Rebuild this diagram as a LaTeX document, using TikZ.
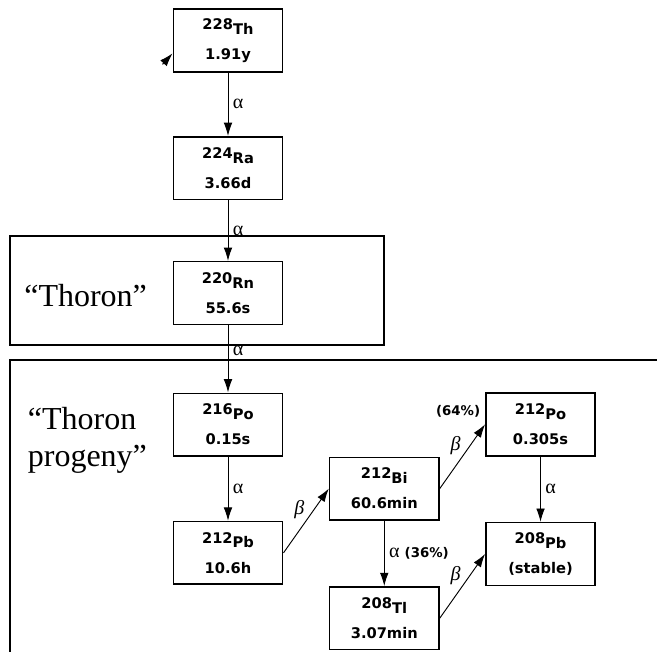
\documentclass[tikz,border=0pt]{standalone}
\usepackage{fontspec}
\setmainfont{Liberation Serif}
\newfontfamily\boxfont{DejaVu Sans}
\usetikzlibrary{arrows.meta, positioning, calc}

\newcommand{\nuc}[2]{\raisebox{3.5pt}{#1}#2}
\newcommand{\pctfont}{\boxfont\bfseries\fontsize{10}{12}\selectfont}

\begin{document}
\begin{tikzpicture}[
    x=0.75pt, y=-0.75pt,
    nuclide/.style={rectangle, draw, line width=1.2pt, minimum width=82pt, minimum height=47pt, inner sep=2pt, align=center, font=\boxfont\bfseries\fontsize{11}{19}\selectfont},
    decay/.style={draw, -{Latex[length=10pt, width=6.5pt]}, line width=0.7pt},
    frame/.style={draw, line width=0.9pt},
    tag/.style={font=\fontsize{24}{28}\selectfont, align=left, inner sep=0pt},
    lbl/.style={font=\fontsize{15}{15}\selectfont},
    pct/.style={font=\pctfont}
]
\useasboundingbox (0,0) rectangle (657,652);

% Main chain
\node[nuclide] (th228) at (228,40.5) {\nuc{228}{Th}\\1.91y};
\node[nuclide, below=47.5pt of th228] (ra224) {\nuc{224}{Ra}\\3.66d};
\node[nuclide, below=45.5pt of ra224] (rn220) {\nuc{220}{Rn}\\55.6s};
\node[nuclide, below=50.5pt of rn220] (po216) {\nuc{216}{Po}\\0.15s};
\node[nuclide, below=48pt of po216] (pb212) {\nuc{212}{Pb}\\10.6h};

% Branches
\node[nuclide, above right=0pt and 34pt of pb212] (bi212) {\nuc{212}{Bi}\\60.6min};
\node[nuclide, above right=0pt and 34pt of bi212] (po212) {\nuc{212}{Po}\\0.305s};
\node[nuclide, below=49pt of bi212] (tl208) {\nuc{208}{Tl}\\3.07min};
\node[nuclide, below=49pt of po212] (pb208) {\nuc{208}{Pb}\\(stable)};

% Labels
\node[tag, left=19pt of rn220, yshift=-2pt] (thoronlbl) {“Thoron”};
\node[tag, left=19pt of po216, yshift=-12pt] (progenylbl) {“Thoron\\progeny”};

% Frames
\draw[frame] (10,236) rectangle (384,345);
\draw[frame] (657,360) -- (10,360) -- (10,652);

% Decays
\coordinate (thin) at ($(th228.south west)!0.3!(th228.north west)$);
\coordinate (feed) at ($(thin)+(-10,11)$);
\draw[decay] (feed) -- (thin);
\draw[decay] (th228) -- node[right, lbl] {α} (ra224);
\draw[decay] (ra224) -- node[right, lbl] {α} (rn220);
\draw[decay] (rn220) -- node[right, lbl, pos=0.38] {α} (po216);
\draw[decay] (po216) -- node[right, lbl] {α} (pb212);
\draw[decay] (pb212.east) -- node[above left, lbl, inner sep=1pt] {\itshape β} (bi212.west);
\draw[decay] (bi212.east) -- node[above left, lbl, inner sep=1pt] {\itshape β} node[pos=1, above left, pct, yshift=2pt] {(64\%)} (po212.west);
\draw[decay] (po212) -- node[right, lbl] {α} (pb208);
\draw[decay] (bi212) -- node[right, lbl] {α {\pctfont (36\%)}} (tl208);
\draw[decay] (tl208.east) -- node[above left, lbl, inner sep=1pt] {\itshape β} (pb208.west);

\end{tikzpicture}
\end{document}
